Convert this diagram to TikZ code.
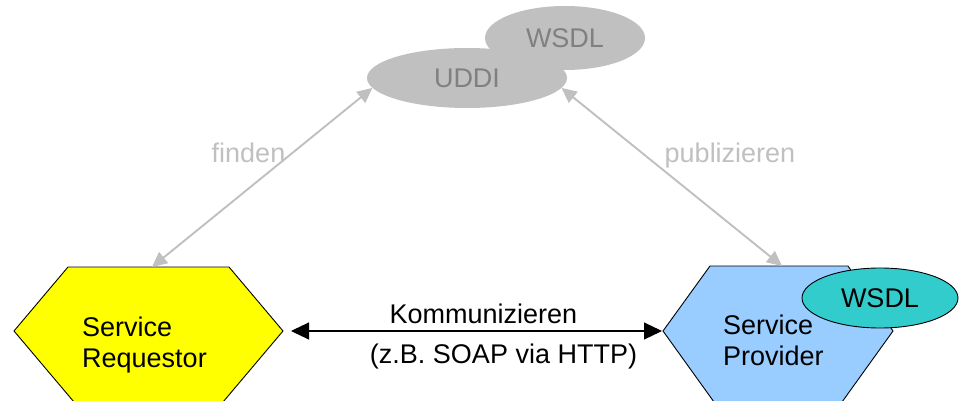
\documentclass[tikz,border=0pt]{standalone}
\usepackage{fontspec}
\setmainfont{Liberation Sans}
\usepackage{xcolor}
\usepackage{tikz}
\usetikzlibrary{arrows.meta,shapes.geometric}
\definecolor{regfill}{HTML}{C0C0C0}
\definecolor{regtext}{HTML}{808080}
\definecolor{reqfill}{HTML}{FFFF00}
\definecolor{provfill}{HTML}{99CCFF}
\definecolor{wsdlfill}{HTML}{33CCCC}

\begin{document}
\begin{tikzpicture}[
    x=1pt,y=-1pt,
    font=\fontsize{27}{31}\selectfont,
    party/.style={draw=black,line width=0.9pt,line join=miter},
    registry/.style={ellipse,fill=regfill,text=regtext,inner sep=0pt},
    contract/.style={ellipse,draw=black,line width=0.9pt,fill=wsdlfill,inner sep=0pt},
    % multi-line labels sit on the baseline of their last line
    role/.style={align=left,inner sep=0pt,anchor=base west},
    lookup/.style={{Triangle[length=15pt,width=14pt]}-{Triangle[length=15pt,width=14pt]},
                   draw=regfill,line width=1.9pt},
    call/.style={{Triangle[length=18pt,width=17pt]}-{Triangle[length=18pt,width=17pt]},
                 line width=1.1pt},
    tag/.style={inner sep=0pt,anchor=base}
  ]

  % page
  \useasboundingbox[fill=white] (0,0) rectangle (959,401);

  % registry
  \node[registry,minimum width=160,minimum height=64] (hW) at (565,38) {WSDL};
  \node[registry,minimum width=200,minimum height=60] (hU) at (467,78) {UDDI};

  % requestor and provider
  \draw[party,fill=reqfill] (14,331) -- (68,267) -- (229,267) -- (283,331)
    -- (223,402) -- (74,402) -- cycle;
  \draw[party,fill=provfill] (663,331) -- (710,266) -- (848,266) -- (893,331)
    -- (842,402) -- (714,402) -- cycle;
  \coordinate (hR-e) at (283,331);
  \coordinate (hR-n) at (152,267);
  \coordinate (hP-w) at (663,331);
  \coordinate (hP-n) at (782,266);

  \node[role] (hR) at (82,367) {Service\\Requestor};
  \node[role] (hP) at (723,365) {Service\\Provider};
  \node[contract,minimum width=156,minimum height=60] (hC) at (880,298) {WSDL};

  % find and publish
  \draw[lookup] (hR-n) -- (hU.186);
  \draw[lookup] (hP-n) -- (hU.354);
  \node[tag,text=regfill] (lFind) at (248.5,163) {finden};
  \node[tag,text=regfill] (lPub) at (730,163) {publizieren};

  % communication
  \draw[call,shorten <=8pt,shorten >=1pt] (hR-e) -- (hP-w);
  \node[tag] (lComm) at (483.5,323) {Kommunizieren};
  \node[tag] (lProt) at (503.5,363) {(z.B. SOAP via HTTP)};

\end{tikzpicture}
\end{document}
